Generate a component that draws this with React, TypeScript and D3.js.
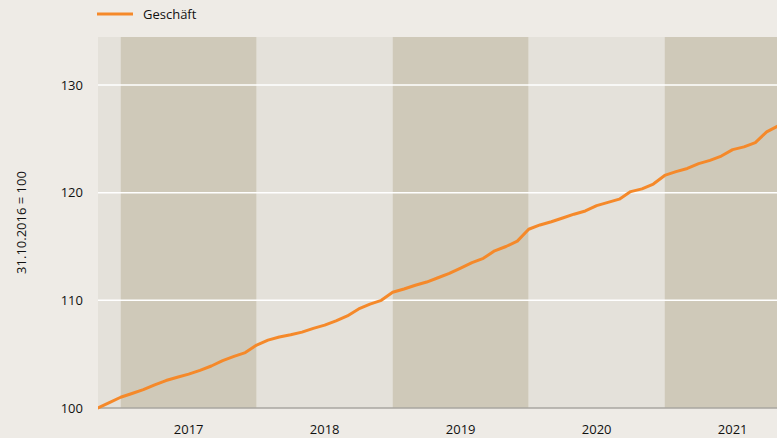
import React from "react";
import * as d3 from "d3";

// Monthly index values, 31.10.2016 = 100 (end of each month)
const values: number[] = [
  100.0, 100.5, 101.0, 101.35, 101.7, 102.15, 102.55, 102.85, 103.15, 103.5,
  103.9, 104.4, 104.8, 105.15, 105.85, 106.3, 106.6, 106.8, 107.05, 107.4,
  107.7, 108.1, 108.55, 109.2, 109.65, 110.0, 110.75, 111.05, 111.4, 111.7,
  112.1, 112.5, 113.0, 113.5, 113.9, 114.6, 115.0, 115.5, 116.6, 117.0,
  117.3, 117.65, 118.0, 118.3, 118.8, 119.1, 119.4, 120.1, 120.35, 120.8,
  121.6, 121.95, 122.25, 122.7, 123.0, 123.4, 124.0, 124.25, 124.65, 125.65,
  126.2,
];
const yearLabels: string[] = ["2017", "2018", "2019", "2020", "2021"];
const yTicks: number[] = [100, 110, 120, 130];
const seriesName = "Geschäft";
const yTitle = "31.10.2016 = 100";

const W = 777;
const H = 438;
const left = 98;
const top = 37;
const bottom = 408;
const right = 777;

export default function App() {
  const x = d3.scaleLinear().domain([0, 60]).range([left, 778]);
  const y = d3.scaleLinear().domain([100, 130]).range([bottom, 85]);

  const line = d3
    .line<number>()
    .x((_, i) => x(i))
    .y((d) => y(d))
    .curve(d3.curveLinear);

  // year bands: month index 2 = end of 2016
  const bands = [{ start: 0, end: 2, dark: false, label: "" }].concat(
    yearLabels.map((l, k) => ({
      start: 2 + k * 12,
      end: 14 + k * 12,
      dark: k % 2 === 0,
      label: l,
    }))
  );

  const font = "'Open Sans', 'Noto Sans', sans-serif";
  const textColor = "#111111";

  return (
    <svg
      width={W}
      height={H}
      style={{ position: "absolute", left: 0, top: 0, background: "#eeebe6" }}
      fontFamily={font}
    >
      <rect x={0} y={0} width={W} height={H} fill="#eeebe6" />
      <defs>
        <clipPath id="plot">
          <rect x={left} y={top} width={right - left} height={bottom - top + 4} />
        </clipPath>
      </defs>
      <g clipPath="url(#plot)">
        {bands.map((b, i) => (
          <rect
            key={i}
            x={x(b.start)}
            y={top}
            width={x(b.end) - x(b.start)}
            height={bottom - top}
            fill={b.dark ? "#cfc9b9" : "#e4e1da"}
          />
        ))}
        {yTicks
          .filter((t) => t !== 100)
          .map((t) => (
            <line
              key={t}
              x1={left}
              x2={right}
              y1={y(t)}
              y2={y(t)}
              stroke="#ffffff"
              strokeWidth={1.5}
            />
          ))}
        <line x1={left} x2={right} y1={bottom} y2={bottom} stroke="#a9a6a0" strokeWidth={1.5} />
        <path
          d={line(values) || ""}
          fill="none"
          stroke="#f5892a"
          strokeWidth={3}
          strokeLinejoin="round"
          strokeLinecap="round"
        />
      </g>
      {yTicks.map((t) => (
        <text
          key={t}
          x={83}
          y={y(t)}
          dy="0.35em"
          textAnchor="end"
          fontSize={13}
          fill={textColor}
        >
          {t}
        </text>
      ))}
      {bands
        .filter((b) => b.label)
        .map((b) => (
          <text
            key={b.label}
            x={(x(b.start) + x(b.end)) / 2}
            y={429.5}
            dy="0.35em"
            textAnchor="middle"
            fontSize={13}
            fill={textColor}
          >
            {b.label}
          </text>
        ))}
      <text
        transform={`translate(21,${(top + bottom) / 2}) rotate(-90)`}
        textAnchor="middle"
        dy="0.35em"
        fontSize={13}
        fill={textColor}
      >
        {yTitle}
      </text>
      <line x1={97} x2={133} y1={14} y2={14} stroke="#f5892a" strokeWidth={3} />
      <text x={143} y={14} dy="0.35em" fontSize={13} fill={textColor}>
        {seriesName}
      </text>
    </svg>
  );
}
